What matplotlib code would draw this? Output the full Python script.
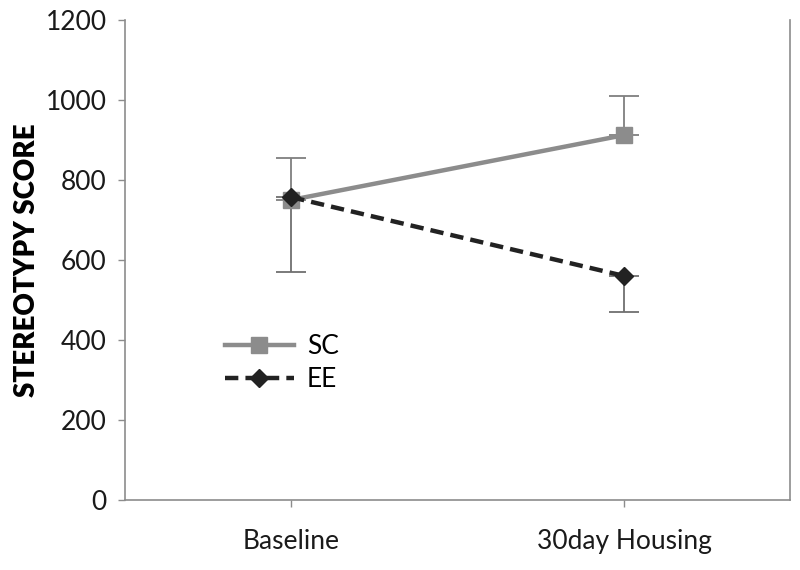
import numpy as np
import matplotlib.pyplot as plt

plt.rcParams['font.family'] = ['Lato', 'DejaVu Sans']

categories = ['Baseline', '30day Housing']
sc_values = [750, 912]
sc_err_up = [105, 97]
ee_values = [757, 560]
ee_err_down = [187, 90]

x = np.arange(len(categories))

fig = plt.figure(figsize=(8, 5.7), dpi=100)
ax = fig.add_axes([0.156, 0.123, 0.832, 0.842])

# error bars first so the markers sit on top
ax.errorbar(x, sc_values, yerr=[np.zeros(2), sc_err_up], fmt='none',
            ecolor='#7f7f7f', elinewidth=1.3, capsize=11, capthick=1.3, zorder=2)
ax.errorbar(x, ee_values, yerr=[ee_err_down, np.zeros(2)], fmt='none',
            ecolor='#6f6f6f', elinewidth=1.3, capsize=11, capthick=1.3, zorder=2)

ax.plot(x, sc_values, color='#8c8c8c', lw=3.2, marker='s', ms=11,
        mfc='#8c8c8c', mec='#8c8c8c', label='SC', zorder=3)
ax.plot(x, ee_values, color='#222222', lw=3.2, ls=(0, (3, 1.6)), marker='D',
        ms=9, mfc='#222222', mec='#222222', label='EE', zorder=4)

ax.set_xlim(-0.5, 1.5)
ax.set_ylim(0, 1200)
ax.set_yticks(range(0, 1201, 200))
ax.set_xticks(x)
ax.set_xticklabels(categories)
ax.tick_params(axis='both', labelsize=19, color='#8c8c8c', length=5, width=1,
               labelcolor='#1a1a1a')
ax.tick_params(axis='x', pad=16)
ax.tick_params(axis='y', pad=8)
ax.set_ylabel('STEREOTYPY SCORE', fontsize=20, fontweight='heavy', labelpad=4)

for s in ['left', 'bottom', 'right']:
    ax.spines[s].set_color('#8c8c8c')
    ax.spines[s].set_linewidth(1.2)
ax.spines['top'].set_visible(False)

ax.legend(loc='upper left', bbox_to_anchor=(0.115, 0.395), frameon=False,
          fontsize=19, handlelength=2.6, handletextpad=0.5, labelspacing=0.3)

plt.savefig('out.png', dpi=100)
